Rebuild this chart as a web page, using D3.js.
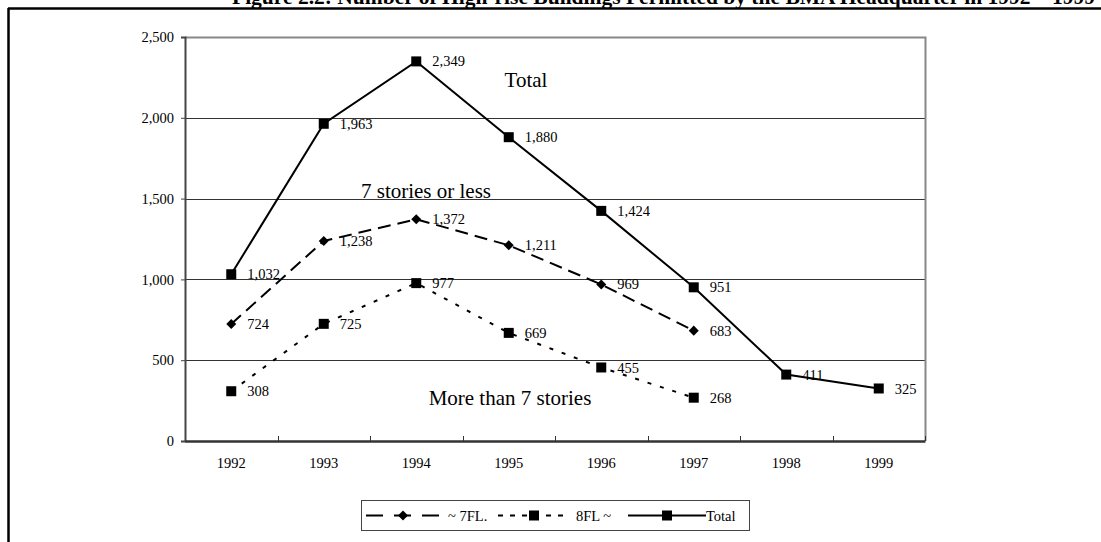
<!DOCTYPE html>
<html>
<head>
<meta charset="utf-8">
<script src="https://cdn.jsdelivr.net/npm/d3@7"></script>
<style>
  body { margin: 0; background: #fff; }
  svg { display: block; font-family: "Liberation Serif", "Times New Roman", serif; }
</style>
</head>
<body>
<div id="chart"></div>
<script>
// data
var years = ["1992", "1993", "1994", "1995", "1996", "1997", "1998", "1999"];
var totalVals = [1032, 1963, 2349, 1880, 1424, 951, 411, 325];
var lowVals = [724, 1238, 1372, 1211, 969, 683];   // ~ 7FL.
var highVals = [308, 725, 977, 669, 455, 268];     // 8FL ~
var yTicks = [0, 500, 1000, 1500, 2000, 2500];

var width = 1101, height = 542;
var margin = { top: 37, right: 176, bottom: 101, left: 185 };
var plotW = width - margin.left - margin.right,
    plotH = height - margin.top - margin.bottom;
var small = "14.5px";

var svg = d3.select("#chart").append("svg")
  .attr("width", width)
  .attr("height", height);

// title (clipped at the top, as in the scan)
svg.append("text")
  .attr("x", 232)
  .attr("y", 4)
  .attr("font-size", "21.5px")
  .attr("font-weight", "bold")
  .text("Figure 2.2: Number of High-rise Buildings Permitted by the BMA Headquarter in 1992 \u2013 1999");

// outer frame
svg.append("line").attr("x1", 8).attr("x2", width).attr("y1", 8.5).attr("y2", 8.5)
  .attr("stroke", "#000").attr("stroke-width", 2.5);
svg.append("line").attr("x1", 8.5).attr("x2", 8.5).attr("y1", 8).attr("y2", height)
  .attr("stroke", "#000").attr("stroke-width", 2.5);

var g = svg.append("g").attr("transform", "translate(" + margin.left + "," + margin.top + ")");

var x = d3.scaleBand().domain(years).range([0, plotW]);
var y = d3.scaleLinear().domain([0, 2500]).range([plotH, 0]);
var cx = function(i) { return x(years[i]) + x.bandwidth() / 2; };

// gridlines
g.selectAll("line.grid")
  .data(yTicks.filter(function(d) { return d > 0 && d < 2500; }))
  .enter().append("line")
  .attr("class", "grid")
  .attr("x1", 0).attr("x2", plotW)
  .attr("y1", function(d) { return Math.round(y(d)) + 0.5; })
  .attr("y2", function(d) { return Math.round(y(d)) + 0.5; })
  .attr("stroke", "#333").attr("stroke-width", 1);

// plot border (top / right)
g.append("path")
  .attr("d", "M0," + 0.5 + "H" + (plotW + 0.5) + "V" + plotH)
  .attr("fill", "none").attr("stroke", "#888").attr("stroke-width", 2);

// y axis
var yAxis = g.append("g")
  .call(d3.axisLeft(y).tickValues(yTicks).tickSize(4).tickPadding(7).tickFormat(d3.format(",")));
yAxis.select(".domain").attr("stroke", "#444").attr("stroke-width", 2);
yAxis.selectAll("line").attr("stroke", "#444");
yAxis.selectAll("text").attr("font-size", small).attr("font-family", "Liberation Serif").attr("fill", "#000");

// x axis with ticks between categories, pointing up
var xAxis = g.append("g").attr("transform", "translate(0," + plotH + ")")
  .call(d3.axisBottom(x).tickSize(0).tickPadding(17));
xAxis.select(".domain").attr("stroke", "#333").attr("stroke-width", 2.5);
xAxis.selectAll("text").attr("font-size", small).attr("font-family", "Liberation Serif").attr("fill", "#000");
xAxis.selectAll("line.sep")
  .data(d3.range(1, years.length + 1))
  .enter().append("line")
  .attr("class", "sep")
  .attr("x1", function(d) { return Math.round(d * x.bandwidth()) + 0.5; })
  .attr("x2", function(d) { return Math.round(d * x.bandwidth()) + 0.5; })
  .attr("y1", 0).attr("y2", -5)
  .attr("stroke", "#333").attr("stroke-width", 1);

var line = d3.line()
  .x(function(d, i) { return cx(i); })
  .y(function(d) { return y(d); });

var series = [
  { name: "~ 7FL.", vals: lowVals, dash: "13,7", legDash: "17,11", marker: "diamond" },
  { name: "8FL ~", vals: highVals, dash: "4,9", legDash: "5,7", marker: "square" },
  { name: "Total", vals: totalVals, dash: null, legDash: null, marker: "square" }
];

function drawMarker(sel, type, px, py) {
  if (type === "diamond") {
    sel.append("path")
      .attr("d", d3.symbol().type(d3.symbolDiamond2).size(64)())
      .attr("transform", "translate(" + px + "," + py + ")")
      .attr("fill", "#000");
  } else {
    sel.append("rect")
      .attr("x", px - 5).attr("y", py - 5)
      .attr("width", 10).attr("height", 10)
      .attr("fill", "#000");
  }
}

series.forEach(function(s) {
  g.append("path")
    .datum(s.vals)
    .attr("d", line)
    .attr("fill", "none")
    .attr("stroke", "#000")
    .attr("stroke-width", 2)
    .attr("stroke-dasharray", s.dash);

  var pts = g.append("g");
  s.vals.forEach(function(v, i) {
    drawMarker(pts, s.marker, cx(i), y(v));
    pts.append("text")
      .attr("x", cx(i) + 16)
      .attr("y", y(v))
      .attr("dy", "0.35em")
      .attr("font-size", small)
      .text(d3.format(",")(v));
  });
});

// annotations inside the plot
var notes = [
  { t: "Total", x: 526, y: 87 },
  { t: "7 stories or less", x: 426, y: 198 },
  { t: "More than 7 stories", x: 510, y: 405 }
];
svg.selectAll("text.note").data(notes).enter().append("text")
  .attr("class", "note")
  .attr("x", function(d) { return d.x; })
  .attr("y", function(d) { return d.y; })
  .attr("text-anchor", "middle")
  .attr("font-size", "21px")
  .text(function(d) { return d.t; });

// legend
var legend = svg.append("g").attr("transform", "translate(361,500)");
legend.append("rect")
  .attr("x", 0.5).attr("y", 0.5).attr("width", 388).attr("height", 30)
  .attr("fill", "#fff").attr("stroke", "#444").attr("stroke-width", 1);

var legItems = [
  { s: series[0], x0: 5, x1: 79, tx: 87 },
  { s: series[1], x0: 137, x1: 209, tx: 215 },
  { s: series[2], x0: 267, x1: 345, tx: 345 }
];
legItems.forEach(function(it) {
  legend.append("line")
    .attr("x1", it.x0).attr("x2", it.x1)
    .attr("y1", 15.5).attr("y2", 15.5)
    .attr("stroke", "#000").attr("stroke-width", 2)
    .attr("stroke-dasharray", it.s.legDash);
  drawMarker(legend, it.s.marker, (it.x0 + it.x1) / 2, 15.5);
  legend.append("text")
    .attr("x", it.tx).attr("y", 15.5).attr("dy", "0.35em")
    .attr("font-size", small)
    .text(it.s.name);
});
</script>
</body>
</html>
